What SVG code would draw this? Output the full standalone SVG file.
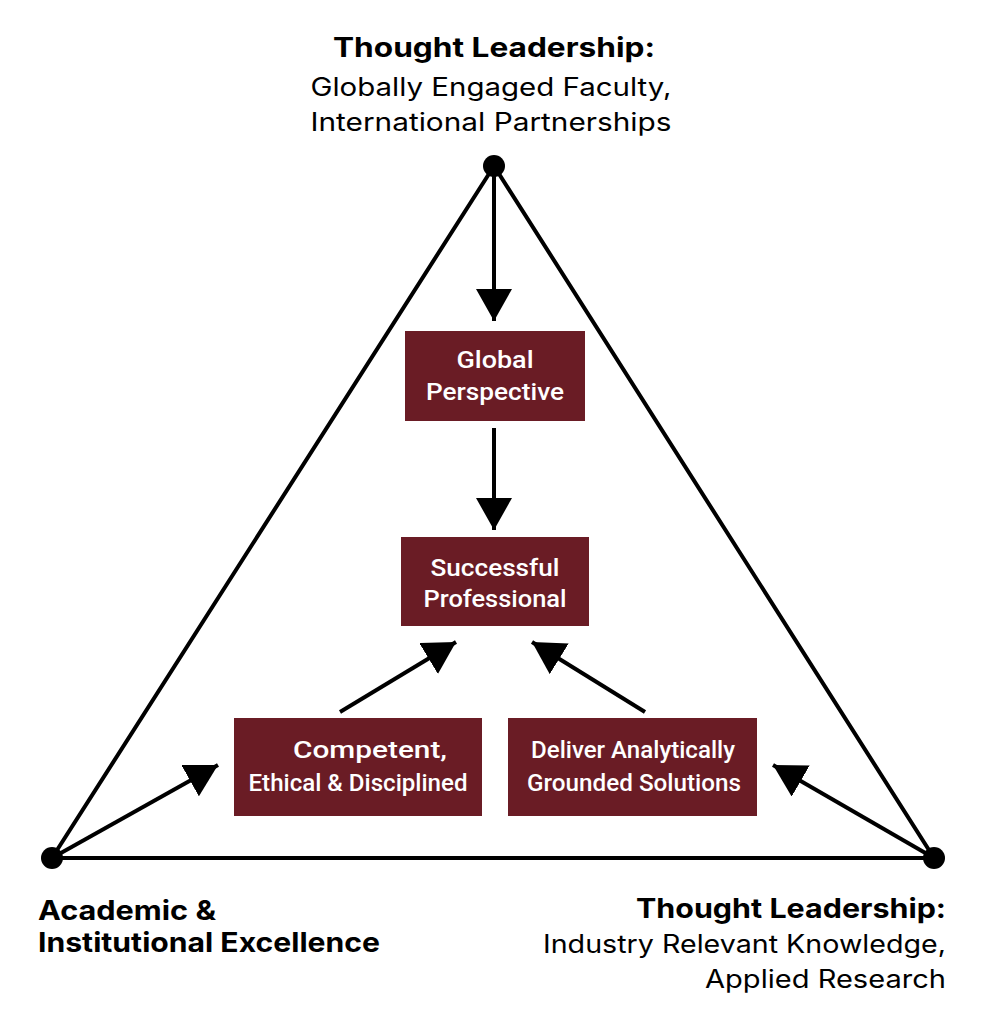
<svg xmlns="http://www.w3.org/2000/svg" width="985" height="1024" viewBox="0 0 985 1024">
<style>
.edge{stroke:#000;stroke-width:4;fill:none}
.arr{stroke:#000;stroke-width:4;fill:none;marker-end:url(#ah)}
.box{fill:#6a1c25}
.bt{font-family:Roboto,"Liberation Sans",sans-serif;font-size:23px;font-weight:500;fill:#fff;text-anchor:middle}
.h{font-family:Inter,Roboto,"Liberation Sans",sans-serif;font-weight:700;font-size:27px;fill:#000}
.s{font-family:Inter,Roboto,"Liberation Sans",sans-serif;font-size:25px;fill:#000}
</style>
<defs>
<marker id="ah" markerUnits="userSpaceOnUse" markerWidth="34" markerHeight="36" refX="32" refY="18" orient="auto" viewBox="0 0 34 36">
<path d="M0,0 L32,18 L0,36 z" fill="#000"/>
</marker>
</defs>
<rect width="985" height="1024" fill="#fff"/>
<g id="connectors">
<path class="edge" d="M494,166 L52,858 L934,858 Z"/>
<line class="arr" x1="494" y1="166" x2="494" y2="321"/>
<line class="arr" x1="494" y1="428" x2="494" y2="530"/>
<line class="arr" x1="340" y1="712" x2="456" y2="642"/>
<line class="arr" x1="645" y1="712" x2="532" y2="642"/>
<line class="arr" x1="52" y1="858" x2="218" y2="765"/>
<line class="arr" x1="934" y1="858" x2="773" y2="765"/>
</g>
<g id="vertices">
<circle cx="494" cy="166" r="11" fill="#000"/>
<circle cx="52" cy="858" r="11" fill="#000"/>
<circle cx="934" cy="858" r="11" fill="#000"/>
</g>
<g id="top-label">
<text class="h" x="494" y="57" text-anchor="middle" textLength="322" lengthAdjust="spacingAndGlyphs">Thought Leadership:</text>
<text class="s" x="491" y="96" text-anchor="middle" textLength="361" lengthAdjust="spacingAndGlyphs">Globally Engaged Faculty,</text>
<text class="s" x="491" y="131" text-anchor="middle" textLength="361" lengthAdjust="spacingAndGlyphs">International Partnerships</text>
</g>
<g id="left-label">
<text class="h" x="38" y="920" textLength="178" lengthAdjust="spacingAndGlyphs">Academic &amp;</text>
<text class="h" x="38" y="952" textLength="342" lengthAdjust="spacingAndGlyphs">Institutional Excellence</text>
</g>
<g id="right-label">
<text class="h" x="946" y="918" text-anchor="end" textLength="310" lengthAdjust="spacingAndGlyphs">Thought Leadership:</text>
<text class="s" x="946" y="953" text-anchor="end" textLength="403" lengthAdjust="spacingAndGlyphs">Industry Relevant Knowledge,</text>
<text class="s" x="946" y="988" text-anchor="end" textLength="241" lengthAdjust="spacingAndGlyphs">Applied Research</text>
</g>
<g id="global-perspective">
<rect class="box" x="405" y="331" width="180" height="90"/>
<text class="bt" x="495" y="368" textLength="77" lengthAdjust="spacingAndGlyphs">Global</text>
<text class="bt" x="495" y="400" textLength="138" lengthAdjust="spacingAndGlyphs">Perspective</text>
</g>
<g id="successful-professional">
<rect class="box" x="401" y="537" width="188" height="89"/>
<text class="bt" x="495" y="576" textLength="129" lengthAdjust="spacingAndGlyphs">Successful</text>
<text class="bt" x="495" y="607" textLength="143" lengthAdjust="spacingAndGlyphs">Professional</text>
</g>
<g id="competent">
<rect class="box" x="234" y="718" width="248" height="98"/>
<text class="bt" x="370" y="758" textLength="154" lengthAdjust="spacingAndGlyphs">Competent,</text>
<text class="bt" x="358" y="791" textLength="219" lengthAdjust="spacingAndGlyphs">Ethical &amp; Disciplined</text>
</g>
<g id="deliver">
<rect class="box" x="508" y="718" width="249" height="98"/>
<text class="bt" x="633" y="758" textLength="204" lengthAdjust="spacingAndGlyphs">Deliver Analytically</text>
<text class="bt" x="634" y="791" textLength="214" lengthAdjust="spacingAndGlyphs">Grounded Solutions</text>
</g>
</svg>
